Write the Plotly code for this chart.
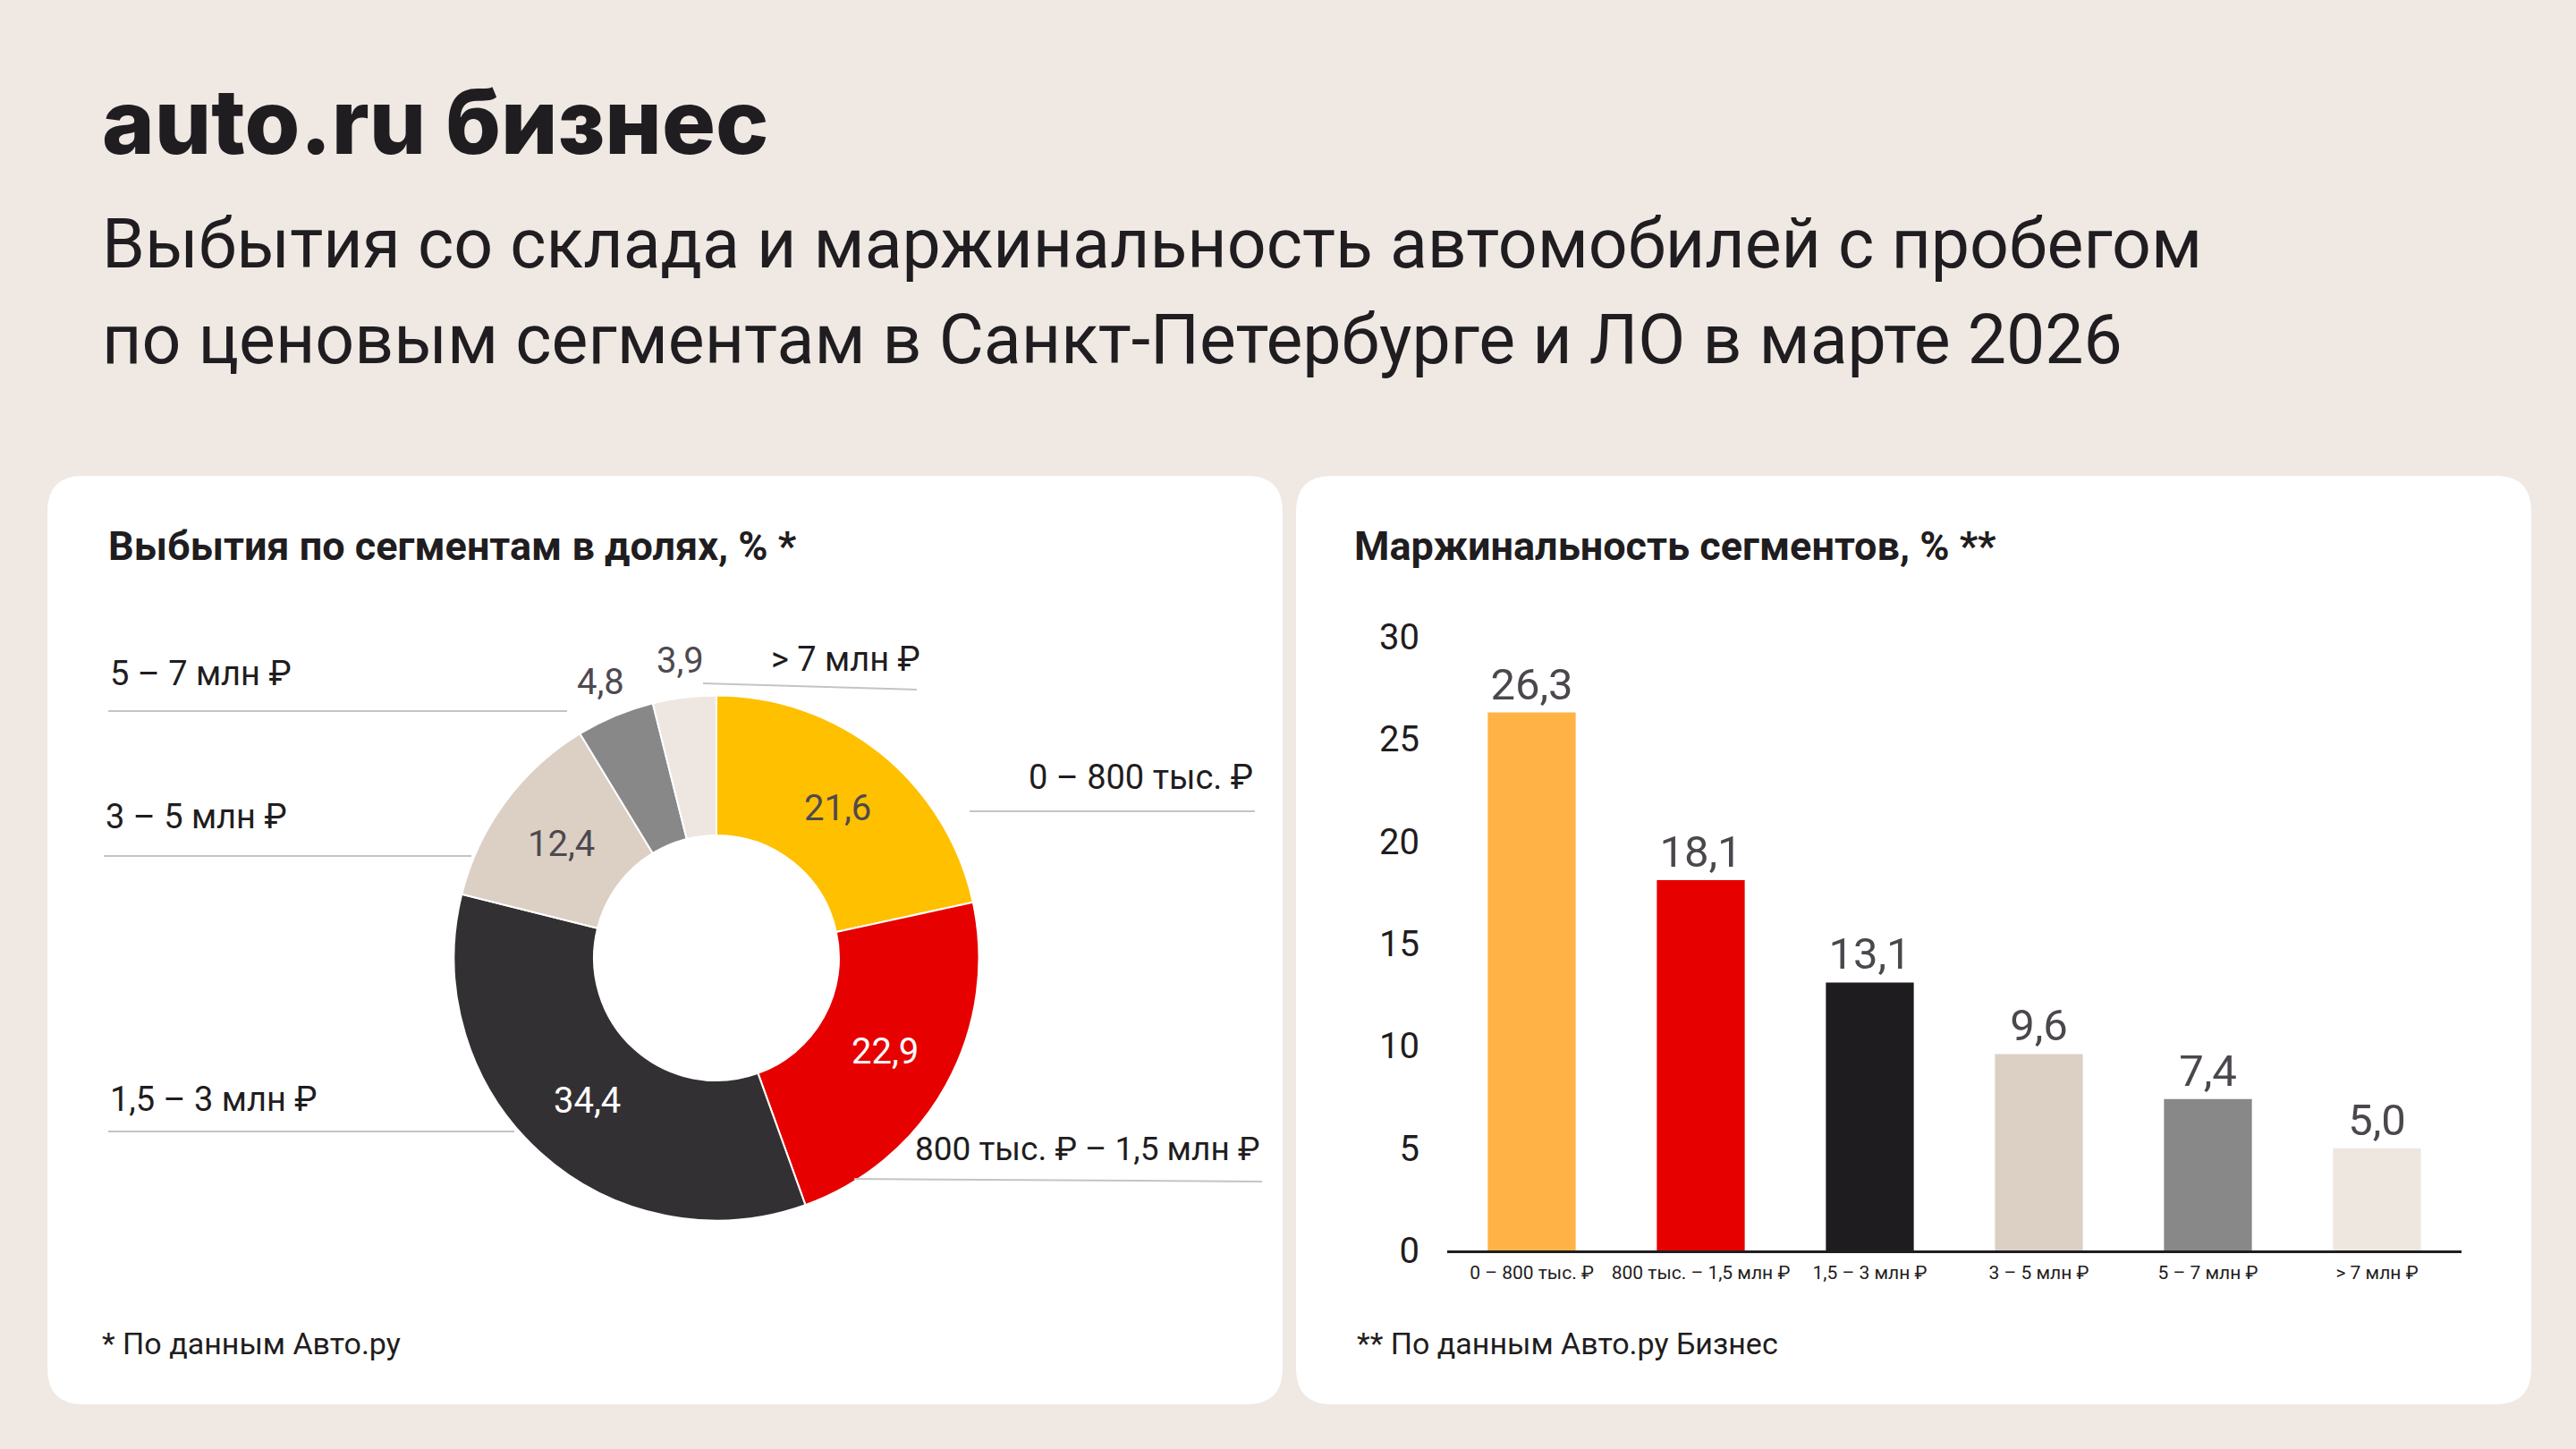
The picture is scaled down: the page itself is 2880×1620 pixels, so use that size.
import plotly.graph_objects as go
import numpy as np

W, H = 2880, 1620

# data
segments = ["0 – 800 тыс. ₽", "800 тыс. ₽ – 1,5 млн ₽", "1,5 – 3 млн ₽",
            "3 – 5 млн ₽", "5 – 7 млн ₽", "> 7 млн ₽"]
bar_labels = ["0 – 800 тыс. ₽", "800 тыс. – 1,5 млн ₽", "1,5 – 3 млн ₽",
              "3 – 5 млн ₽", "5 – 7 млн ₽", "> 7 млн ₽"]
share = [21.6, 22.9, 34.4, 12.4, 4.8, 3.9]
margin = [26.3, 18.1, 13.1, 9.6, 7.4, 5.0]
y_ticks = [0, 5, 10, 15, 20, 25, 30]

pie_colors = ["#FFC000", "#E60000", "#333033", "#DCD0C5", "#888888", "#EEE6E0"]
bar_colors = ["#FFB347", "#E60000", "#1E1C1F", "#DCD0C5", "#888888", "#EEE7E0"]
pie_text_colors = ["#4E4950", "#FFFFFF", "#FFFFFF", "#4E4950", "#4E4950", "#4E4950"]

BG = "#EFE8E3"
DARK = "#1F1D20"
FONT = "Roboto"


def px(x, y):
    # pixel (top-left origin) -> paper coords
    return x / W, 1 - y / H


def rounded_rect(x0, y0, x1, y1, r):
    def p(x, y):
        a, b = px(x, y)
        return f"{a:.5f},{b:.5f}"
    path = (f"M {p(x0 + r, y0)} L {p(x1 - r, y0)} Q {p(x1, y0)} {p(x1, y0 + r)} "
            f"L {p(x1, y1 - r)} Q {p(x1, y1)} {p(x1 - r, y1)} "
            f"L {p(x0 + r, y1)} Q {p(x0, y1)} {p(x0, y1 - r)} "
            f"L {p(x0, y0 + r)} Q {p(x0, y0)} {p(x0 + r, y0)} Z")
    return dict(type="path", xref="paper", yref="paper", path=path,
                fillcolor="white", line=dict(width=0), layer="below")


def text(s, x, y, size, color=DARK, xanchor="left", weight="normal", family=FONT):
    a, b = px(x, y)
    return dict(text=s, x=a, y=b, xref="paper", yref="paper", xanchor=xanchor,
                yanchor="middle", showarrow=False,
                font=dict(size=size, color=color, family=family, weight=weight))


def hline(x0, y0, x1, y1, color="#C4C4C4", width=2):
    a0, b0 = px(x0, y0)
    a1, b1 = px(x1, y1)
    return dict(type="line", xref="paper", yref="paper", x0=a0, y0=b0, x1=a1, y1=b1,
                line=dict(color=color, width=width))


fig = go.Figure()

# donut
cx, cy, R, r_in = 801, 1071, 293.5, 137
dx0, dy1 = px(cx - R, cy - R)
dx1, dy0 = px(cx + R, cy + R)
fig.add_trace(go.Pie(
    values=share, labels=segments, sort=False, direction="clockwise", rotation=0,
    hole=r_in / R, textinfo="none", hoverinfo="label+value",
    marker=dict(colors=pie_colors, line=dict(color="white", width=2)),
    domain=dict(x=[dx0, dx1], y=[dy0, dy1]), showlegend=False,
))

# bars
bx0, by0 = px(1618, 1398)
bx1, by1 = px(2752, 712)
fig.add_trace(go.Bar(
    x=bar_labels, y=margin, marker=dict(color=bar_colors, line=dict(width=0)),
    text=[f"{v:.1f}".replace(".", ",") for v in margin], textposition="outside",
    textfont=dict(size=49, color="#4B474D", family=FONT), cliponaxis=False,
    showlegend=False, width=0.52,
))

annotations = []

# donut value labels, placed from the share angles
cum = np.cumsum([0] + share[:-1])
for i, v in enumerate(share):
    mid = (cum[i] + v / 2) / sum(share) * 2 * np.pi
    rr = (R + r_in) / 2 if v > 6 else R * 1.14
    x = cx + rr * np.sin(mid)
    y = cy - rr * np.cos(mid)
    annotations.append(text(f"{v:.1f}".replace(".", ","), x, y, 40,
                            color=pie_text_colors[i], xanchor="center"))

# donut category labels with leader lines
shapes = [rounded_rect(53, 532, 1434, 1570, 40), rounded_rect(1449, 532, 2830, 1570, 40)]
annotations += [
    text(segments[4], 121, 753, 38),
    text(segments[3], 116, 913, 38),
    text(segments[2], 121, 1229, 38),
    text(segments[5], 860, 737, 38),
    text(segments[0], 1403, 869, 38, xanchor="right"),
    text(segments[1], 1411, 1284, 37, xanchor="right"),
]
shapes += [
    hline(121, 795, 634, 795),
    hline(116, 957, 527, 957),
    hline(121, 1265, 575, 1265),
    hline(786, 764, 1025, 771),
    hline(1084, 907, 1403, 907),
    hline(955, 1318, 1411, 1321),
]

# titles and notes
annotations += [
    text("auto.ru бизнес", 112, 136, 100, weight=800, family="Inter"),
    text("Выбытия со склада и маржинальность автомобилей с пробегом", 112, 273, 77),
    text("по ценовым сегментам в Санкт-Петербурге и ЛО в марте 2026", 112, 380, 77),
    text("Выбытия по сегментам в долях, % *", 119, 610, 45, weight="bold"),
    text("Маржинальность сегментов, % **", 1512, 610, 45, weight="bold"),
    text("* По данным Авто.ру", 112, 1502, 34),
    text("** По данным Авто.ру Бизнес", 1515, 1502, 34),
]

fig.update_layout(
    width=W, height=H, margin=dict(l=0, r=0, t=0, b=0, autoexpand=False),
    paper_bgcolor=BG, plot_bgcolor="rgba(0,0,0,0)",
    font=dict(family=FONT, color=DARK),
    shapes=shapes, annotations=annotations,
    xaxis=dict(domain=[bx0, bx1], range=[-0.5, 5.5], showgrid=False, zeroline=False,
               showline=True, linecolor=DARK, linewidth=3, ticks="", automargin=False,
               tickfont=dict(size=21, color=DARK), ticklabelstandoff=4,
               fixedrange=True),
    yaxis=dict(domain=[by0, by1], range=[0, 30], tickvals=y_ticks, showgrid=False,
               zeroline=False, showline=False, ticks="", automargin=False,
               tickfont=dict(size=40, color=DARK), ticklabelstandoff=30,
               fixedrange=True),
)

fig.write_html("out.html", config={"displayModeBar": False},
               post_script="document.body.style.margin='0';")
